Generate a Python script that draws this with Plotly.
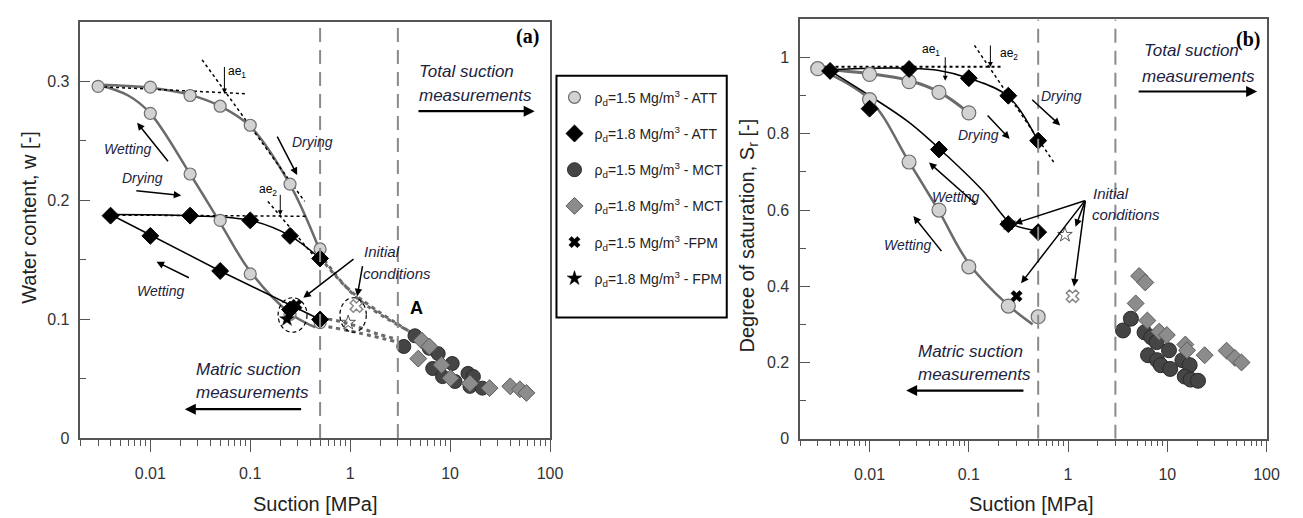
import plotly.graph_objects as go

W, H = 1303, 518
FONT = "Liberation Sans Narrow, Arial Narrow, Liberation Sans, Arial"
TXT = "#1c2340"

# ---------------- Panel (a): water content ----------------
a_att15_dry_s = [0.003, 0.01, 0.025, 0.05, 0.1, 0.25, 0.5]
a_att15_dry_w = [0.2957, 0.295, 0.288, 0.279, 0.263, 0.2135, 0.159]
a_att15_wet_s = [0.01, 0.025, 0.05, 0.1, 0.25, 0.5]
a_att15_wet_w = [0.273, 0.222, 0.183, 0.138, 0.104, 0.097]
a_att18_dry_s = [0.004, 0.025, 0.1, 0.25, 0.5]
a_att18_dry_w = [0.187, 0.187, 0.183, 0.170, 0.151]
a_att18_wet_s = [0.01, 0.05, 0.25, 0.5]
a_att18_wet_w = [0.170, 0.1405, 0.108, 0.0997]

a_c15_dry_s = [0.003, 0.01, 0.025, 0.05, 0.1, 0.25, 0.5]
a_c15_dry_w = [0.297, 0.2945, 0.2885, 0.279, 0.262, 0.213, 0.157]
a_c15_wet_s = [0.003, 0.006, 0.01, 0.025, 0.05, 0.1, 0.25, 0.45]
a_c15_wet_w = [0.297, 0.288, 0.273, 0.222, 0.181, 0.140, 0.105, 0.093]
a_c18_dry_s = [0.004, 0.025, 0.1, 0.25, 0.5]
a_c18_dry_w = [0.188, 0.187, 0.183, 0.170, 0.151]
a_c18_wet_s = [0.004, 0.01, 0.05, 0.5]
a_c18_wet_w = [0.188, 0.171, 0.1405, 0.0997]

a_mct15_s = [3.44, 4.45, 6.2, 7.6, 10.5, 6.7, 8.4, 11.2, 15.1, 17.1, 15.8, 21.0]
a_mct15_w = [0.077, 0.086, 0.0755, 0.071, 0.0627, 0.0585, 0.0517, 0.0476, 0.0544, 0.0517, 0.0435, 0.042]
a_mct18_s = [4.8, 5.2, 6.2, 8.2, 10.1, 15.8, 24.8, 40.0, 50.0, 58.0]
a_mct18_w = [0.0668, 0.082, 0.077, 0.0615, 0.0504, 0.046, 0.042, 0.0435, 0.041, 0.038]

a_fpm15_s, a_fpm15_w = [0.29], [0.112]
a_fpm18_s, a_fpm18_w = [0.233], [0.100]
a_fpm15_open_s, a_fpm15_open_w = [1.155], [0.111]
a_fpm18_open_s, a_fpm18_open_w = [0.955], [0.097]

a_ae1_h_s, a_ae1_h_w = [0.003, 0.09], [0.2955, 0.2895]
a_ae1_t_s, a_ae1_t_w = [0.033, 0.35], [0.318, 0.199]
a_ae2_h_s, a_ae2_h_w = [0.004, 0.36], [0.1875, 0.1865]
a_ae2_t_s, a_ae2_t_w = [0.15, 0.5], [0.199, 0.147]

a_link_up1_s, a_link_up1_w = [0.5, 1.0, 4.2], [0.152, 0.124, 0.088]
a_link_up2_s, a_link_up2_w = [0.55, 1.2, 4.5], [0.150, 0.117, 0.087]
a_link_lo1_s, a_link_lo1_w = [0.5, 1.0, 2.9], [0.095, 0.090, 0.081]
a_link_lo2_s, a_link_lo2_w = [0.6, 0.9, 1.9, 3.0], [0.100, 0.097, 0.0875, 0.083]

# ---------------- Panel (b): degree of saturation ----------------
b_att15_dry_s = [0.003, 0.01, 0.025, 0.05, 0.1]
b_att15_dry_S = [0.971, 0.956, 0.937, 0.909, 0.855]
b_att15_wet_s = [0.01, 0.025, 0.05, 0.1, 0.25, 0.5]
b_att15_wet_S = [0.89, 0.726, 0.60, 0.451, 0.348, 0.32]
b_att18_dry_s = [0.004, 0.025, 0.1, 0.25, 0.5]
b_att18_dry_S = [0.965, 0.97, 0.946, 0.90, 0.782]
b_att18_wet_s = [0.01, 0.05, 0.25, 0.5]
b_att18_wet_S = [0.866, 0.759, 0.563, 0.542]

b_c15_dry_s = [0.003, 0.01, 0.025, 0.05, 0.1]
b_c15_dry_S = [0.971, 0.958, 0.94, 0.91, 0.855]
b_c15_wet_s = [0.003, 0.01, 0.025, 0.05, 0.1, 0.25, 0.44]
b_c15_wet_S = [0.971, 0.89, 0.726, 0.597, 0.46, 0.35, 0.30]
b_c18_dry_s = [0.004, 0.01, 0.025, 0.05, 0.1, 0.25, 0.5]
b_c18_dry_S = [0.968, 0.972, 0.972, 0.966, 0.946, 0.898, 0.78]
b_c18_wet_s = [0.004, 0.01, 0.025, 0.06, 0.14, 0.23, 0.27, 0.5]
b_c18_wet_S = [0.965, 0.90, 0.83, 0.743, 0.649, 0.58, 0.563, 0.545]

b_mct15_s = [3.58, 4.3, 5.9, 6.9, 7.8, 10.4, 6.4, 7.9, 8.6, 10.7, 14.2, 16.8, 15.0, 17.2, 20.4]
b_mct15_S = [0.284, 0.315, 0.279, 0.266, 0.2535, 0.232, 0.219, 0.206, 0.193, 0.183, 0.206, 0.193, 0.163, 0.155, 0.152]
b_mct18_s = [5.2, 6.0, 4.8, 6.3, 8.3, 9.9, 15.2, 15.8, 23.8, 39.6, 48.0, 56.0]
b_mct18_S = [0.427, 0.41, 0.355, 0.31, 0.281, 0.272, 0.247, 0.232, 0.219, 0.231, 0.212, 0.20]

b_fpm15_s, b_fpm15_S = [0.303], [0.374]
b_fpm18_s, b_fpm18_S = [0.25], [0.565]
b_fpm15_open_s, b_fpm15_open_S = [1.11], [0.374]
b_fpm18_open_s, b_fpm18_open_S = [0.93], [0.535]

b_ae_h_s, b_ae_h_S = [0.0026, 0.22], [0.976, 0.976]
b_ae_t_s, b_ae_t_S = [0.114, 0.716], [1.032, 0.726]

# axis ticks
x_tickvals = [0.01, 0.1, 1, 10, 100]
x_ticktext = ["0.01", "0.1", "1", "10", "100"]
x_minor = [m * 10 ** e for e in (-3, -2, -1, 0, 1) for m in range(2, 10)]
a_ytickvals = [0, 0.1, 0.2, 0.3]
a_yticktext = ["0", "0.1", "0.2", "0.3"]
a_yminor = [0.05, 0.15, 0.25]
b_ytickvals = [0, 0.2, 0.4, 0.6, 0.8, 1.0]
b_yticktext = ["0", "0.2", "0.4", "0.6", "0.8", "1"]
b_yminor = [0.1, 0.3, 0.5, 0.7, 0.9]

legend_names = [
    "ρ<sub>d</sub>=1.5 Mg/m<sup>3</sup> - ATT",
    "ρ<sub>d</sub>=1.8 Mg/m<sup>3</sup> - ATT",
    "ρ<sub>d</sub>=1.5 Mg/m<sup>3</sup> - MCT",
    "ρ<sub>d</sub>=1.8 Mg/m<sup>3</sup> - MCT",
    "ρ<sub>d</sub>=1.5 Mg/m<sup>3</sup> -FPM",
    "ρ<sub>d</sub>=1.8 Mg/m<sup>3</sup> - FPM",
]

M_ATT15 = dict(symbol="circle", size=12, color="#d2d2d2", line=dict(color="#6e6e6e", width=1.2))
M_ATT18 = dict(symbol="diamond", size=13, color="#000000", line=dict(color="#000000", width=1))
M_MCT15 = dict(symbol="circle", size=14, color="#454545", line=dict(color="#2a2a2a", width=1))
M_MCT18 = dict(symbol="diamond", size=13, color="#8c8c8c", line=dict(color="#5a5a5a", width=1))
M_FPM15 = dict(symbol="x", size=10, color="#000000", line=dict(color="#000000", width=0.5))
M_FPM18 = dict(symbol="star", size=11, color="#000000", line=dict(color="#000000", width=0.5))
M_FPM15o = dict(symbol="x-open", size=11, color="#888888", line=dict(width=1.5))
M_FPM18o = dict(symbol="star-open", size=11, color="#555555", line=dict(width=1))

fig = go.Figure()


def line(xs, ys, ax, color, width, dash="solid", shape="spline"):
    fig.add_trace(go.Scatter(x=xs, y=ys, mode="lines", xaxis=ax[0], yaxis=ax[1],
                             line=dict(color=color, width=width, dash=dash, shape=shape, smoothing=1.0),
                             showlegend=False, hoverinfo="skip"))


def pts(xs, ys, ax, marker, name=None, legend=False, group=None):
    fig.add_trace(go.Scatter(x=xs, y=ys, mode="markers", xaxis=ax[0], yaxis=ax[1],
                             marker=marker, name=name, showlegend=legend,
                             legendgroup=group))


A = ("x", "y")
B = ("x2", "y2")
GREY = "#6b6b6b"
LINKC = "#6a6a6a"

# ---- panel (a) lines ----
line(a_c15_dry_s, a_c15_dry_w, A, GREY, 2.5)
line(a_c15_wet_s, a_c15_wet_w, A, GREY, 2.5)
line(a_c18_dry_s, a_c18_dry_w, A, "#000", 1.5)
line(a_c18_wet_s, a_c18_wet_w, A, "#000", 1.5, shape="linear")
for xs, ys in [(a_ae1_h_s, a_ae1_h_w), (a_ae1_t_s, a_ae1_t_w), (a_ae2_h_s, a_ae2_h_w), (a_ae2_t_s, a_ae2_t_w)]:
    line(xs, ys, A, "#000", 1.5, dash="dot", shape="linear")
for xs, ys in [(a_link_up1_s, a_link_up1_w), (a_link_up2_s, a_link_up2_w),
               (a_link_lo1_s, a_link_lo1_w), (a_link_lo2_s, a_link_lo2_w)]:
    line(xs, ys, A, LINKC, 3, dash="4px,4px")

# ---- panel (b) lines ----
line(b_c15_dry_s, b_c15_dry_S, B, GREY, 3)
line(b_c15_wet_s, b_c15_wet_S, B, GREY, 2.5)
line(b_c18_dry_s, b_c18_dry_S, B, "#000", 1.5)
line(b_c18_wet_s, b_c18_wet_S, B, "#000", 1.5)
line(b_ae_h_s, b_ae_h_S, B, "#000", 1.8, dash="dot", shape="linear")
line(b_ae_t_s, b_ae_t_S, B, "#000", 1.5, dash="dot", shape="linear")

# ---- markers (a), legend entries ----
pts(a_att15_dry_s + a_att15_wet_s, a_att15_dry_w + a_att15_wet_w, A, M_ATT15, legend_names[0], True, "g1")
pts(a_att18_dry_s + a_att18_wet_s, a_att18_dry_w + a_att18_wet_w, A, M_ATT18, legend_names[1], True, "g2")
pts(a_mct15_s, a_mct15_w, A, M_MCT15, legend_names[2], True, "g3")
pts(a_mct18_s, a_mct18_w, A, M_MCT18, legend_names[3], True, "g4")
pts(a_fpm15_s, a_fpm15_w, A, M_FPM15, legend_names[4], True, "g5")
pts(a_fpm18_s, a_fpm18_w, A, M_FPM18, legend_names[5], True, "g6")
pts(a_fpm15_open_s, a_fpm15_open_w, A, M_FPM15o)
pts(a_fpm18_open_s, a_fpm18_open_w, A, M_FPM18o)

# ---- markers (b) ----
pts(b_att15_dry_s + b_att15_wet_s, b_att15_dry_S + b_att15_wet_S, B, dict(M_ATT15, size=14))
pts(b_att18_dry_s + b_att18_wet_s, b_att18_dry_S + b_att18_wet_S, B, M_ATT18)
pts(b_mct15_s, b_mct15_S, B, dict(M_MCT15, size=15))
pts(b_mct18_s, b_mct18_S, B, M_MCT18)
pts(b_fpm15_s, b_fpm15_S, B, M_FPM15)
pts(b_fpm18_s, b_fpm18_S, B, M_FPM18)
pts(b_fpm15_open_s, b_fpm15_open_S, B, M_FPM15o)
pts(b_fpm18_open_s, b_fpm18_open_S, B, M_FPM18o)


def P(x, y):
    return x / W, 1 - y / H


ann = []


def text(x, y, s, size=16, italic=False, xanchor="center", color=TXT, family=FONT, angle=0, bold=False):
    if italic:
        s = "<i>" + s + "</i>"
    if bold:
        s = "<b>" + s + "</b>"
    px, py = P(x, y)
    ann.append(dict(x=px, y=py, xref="paper", yref="paper", text=s, showarrow=False,
                    xanchor=xanchor, yanchor="middle", textangle=angle,
                    font=dict(family=family, size=size, color=color)))


def arrow(x0, y0, x1, y1, width=1.5, head=2, size=1.0):
    px, py = P(x1, y1)
    ann.append(dict(x=px, y=py, xref="paper", yref="paper", text="", showarrow=True,
                    ax=x0 - x1, ay=y0 - y1, axref="pixel", ayref="pixel",
                    arrowhead=head, arrowsize=size, arrowwidth=width, arrowcolor="#000"))


SM = 14   # Wetting / Drying
SI = 15   # Initial conditions
ST = 17   # Total / Matric suction

# ---- annotations (a) ----
text(231, 65, "ae<sub>1</sub>", 12, color="#000")
arrow(218.6, 59, 218.6, 87, 1, head=2)
text(263, 185, "ae<sub>2</sub>", 12, color="#000")
arrow(275, 189, 275, 211, 1, head=2)
text(121, 144, "Wetting", SM, True)
arrow(162.5, 156.7, 130.4, 116.7)
text(308, 136.7, "Drying", SM, True)
arrow(271.4, 130, 292.1, 170)
text(135.7, 173.3, "Drying", SM, True)
arrow(128.6, 186, 175, 190.7)
text(153.6, 288.3, "Wetting", SM, True)
arrow(183.9, 275, 150, 258.3)
text(358, 248.3, "Initial", SI, True, xanchor="left")
text(357, 270, "conditions", SI, True, xanchor="left")
arrow(350, 255, 298.3, 295)
arrow(358.3, 261.7, 352.7, 293.3)
text(413, 65, "Total suction", ST, True, xanchor="left")
text(413, 89, "measurements", ST, True, xanchor="left")
arrow(414.3, 105, 532, 105, 2.2)
text(187.5, 368.3, "Matric suction", ST, True, xanchor="left")
text(187.5, 391.7, "measurements", ST, True, xanchor="left")
arrow(296.4, 408.3, 178.6, 408.3, 2.2)
text(525, 29, "(a)", 20, bold=True, family="Liberation Serif, Times New Roman, serif", color="#000")
text(412.5, 305, "A", 18, bold=True, color="#000")

# ---- annotations (b) ----
text(932, 43, "ae<sub>1</sub>", 12, color="#000")
arrow(946.7, 49, 946.7, 74, 1)
text(1011, 47, "ae<sub>2</sub>", 12, color="#000")
arrow(992.3, 37, 992.3, 60, 1)
text(980, 129.3, "Drying", SM, True)
arrow(988.3, 108.3, 1011.7, 133.3)
text(1064.4, 89.3, "Drying", SM, True)
arrow(1033.3, 92.5, 1062.8, 119.5)
text(956.6, 192.7, "Wetting", SM, True)
arrow(978.5, 200, 930.3, 157.3)
text(909, 240.7, "Wetting", SM, True)
arrow(943.8, 248.3, 914.5, 211.7)
text(1094, 188.3, "Initial", SI, True, xanchor="left")
text(1093, 210, "conditions", SI, True, xanchor="left")
for hx, hy in [(1016.7, 219.3), (1078.3, 222.7), (1023.3, 280), (1076.7, 283.3)]:
    arrow(1088.3, 196, hx, hy)
text(1145, 43.3, "Total suction", ST, True, xanchor="left")
text(1143, 70, "measurements", ST, True, xanchor="left")
arrow(1141.7, 85, 1261.7, 85, 2.2)
text(917, 349.3, "Matric suction", ST, True, xanchor="left")
text(917, 373.3, "measurements", ST, True, xanchor="left")
arrow(1026, 389.3, 907.2, 389.3, 2.2)
text(1253, 31.7, "(b)", 20, bold=True, family="Liberation Serif, Times New Roman, serif", color="#000")

# axis titles
text(21.7, 213, "Water content, w [-]", 20, angle=-90, color="#222")
text(310.7, 505, "Suction [MPa]", 20, color="#222")
text(748, 232, "Degree of saturation, S<sub>r</sub> [-]", 20, angle=-90, color="#222")
text(1034, 505, "Suction [MPa]", 20, color="#222")

shapes = []
# vertical dashed separators
for xr, yr, top in [("x", "y", 0.35), ("x2", "y2", 1.1)]:
    for xv in (0.5, 3.0):
        shapes.append(dict(type="line", xref=xr, yref=yr, x0=xv, x1=xv, y0=0, y1=top,
                           line=dict(color="#8a8a8a", width=2, dash="14px,8px")))
# dashed ellipses around initial conditions in (a)
shapes.append(dict(type="circle", xref="x", yref="y", x0=0.19, x1=0.37, y0=0.089, y1=0.118,
                   line=dict(color="#000", width=1.2, dash="4px,3px")))
shapes.append(dict(type="circle", xref="x", yref="y", x0=0.79, x1=1.45, y0=0.089, y1=0.118,
                   line=dict(color="#000", width=1.2, dash="4px,3px")))
# legend frame
x0p, y1p = P(554, 69)
x1p, y0p = P(726, 315)
shapes.append(dict(type="rect", xref="paper", yref="paper", x0=x0p, x1=x1p, y0=y0p, y1=y1p,
                   line=dict(color="#000", width=2)))

axis_common = dict(showline=True, linecolor="#555", linewidth=1.5, mirror=True,
                   showgrid=False, zeroline=False,
                   tickfont=dict(family=FONT, size=16, color="#333"))

xa = dict(axis_common, type="log", range=[-2.699, 2], tickvals=x_tickvals, ticktext=x_ticktext,
          ticks="outside", ticklen=12, tickwidth=1.2, tickcolor="#555", ticklabelstandoff=8,
          minor=dict(tickvals=x_minor, ticks="outside", ticklen=6, tickwidth=1, tickcolor="#555"))

fig.update_layout(
    width=W, height=H, margin=dict(l=0, r=0, t=0, b=0),
    paper_bgcolor="white", plot_bgcolor="white",
    xaxis=dict(xa, domain=[73.2 / W, 547.5 / W], anchor="y"),
    yaxis=dict(axis_common, domain=[1 - 437.7 / H, 1 - 14 / H], anchor="x", range=[0, 0.35],
               tickvals=a_ytickvals, ticktext=a_yticktext, ticks="inside", ticklen=10,
               tickcolor="#555", ticklabelstandoff=6,
               minor=dict(tickvals=a_yminor, ticks="inside", ticklen=6, tickcolor="#555")),
    xaxis2=dict(xa, domain=[800.2 / W, 1271.2 / W], anchor="y2"),
    yaxis2=dict(axis_common, domain=[1 - 438.3 / H, 1 - 11.7 / H], anchor="x2", range=[0, 1.1],
                tickvals=b_ytickvals, ticktext=b_yticktext, ticks="inside", ticklen=10,
                tickcolor="#555", ticklabelstandoff=6,
                minor=dict(tickvals=b_yminor, ticks="inside", ticklen=6, tickcolor="#555")),
    legend=dict(x=552 / W, y=1 - 75 / H, xanchor="left", yanchor="top",
                bgcolor="rgba(0,0,0,0)", borderwidth=0, tracegroupgap=15,
                font=dict(family=FONT, size=14, color="#222"), itemsizing="trace"),
    annotations=ann, shapes=shapes,
)

fig.write_html("out.html")
